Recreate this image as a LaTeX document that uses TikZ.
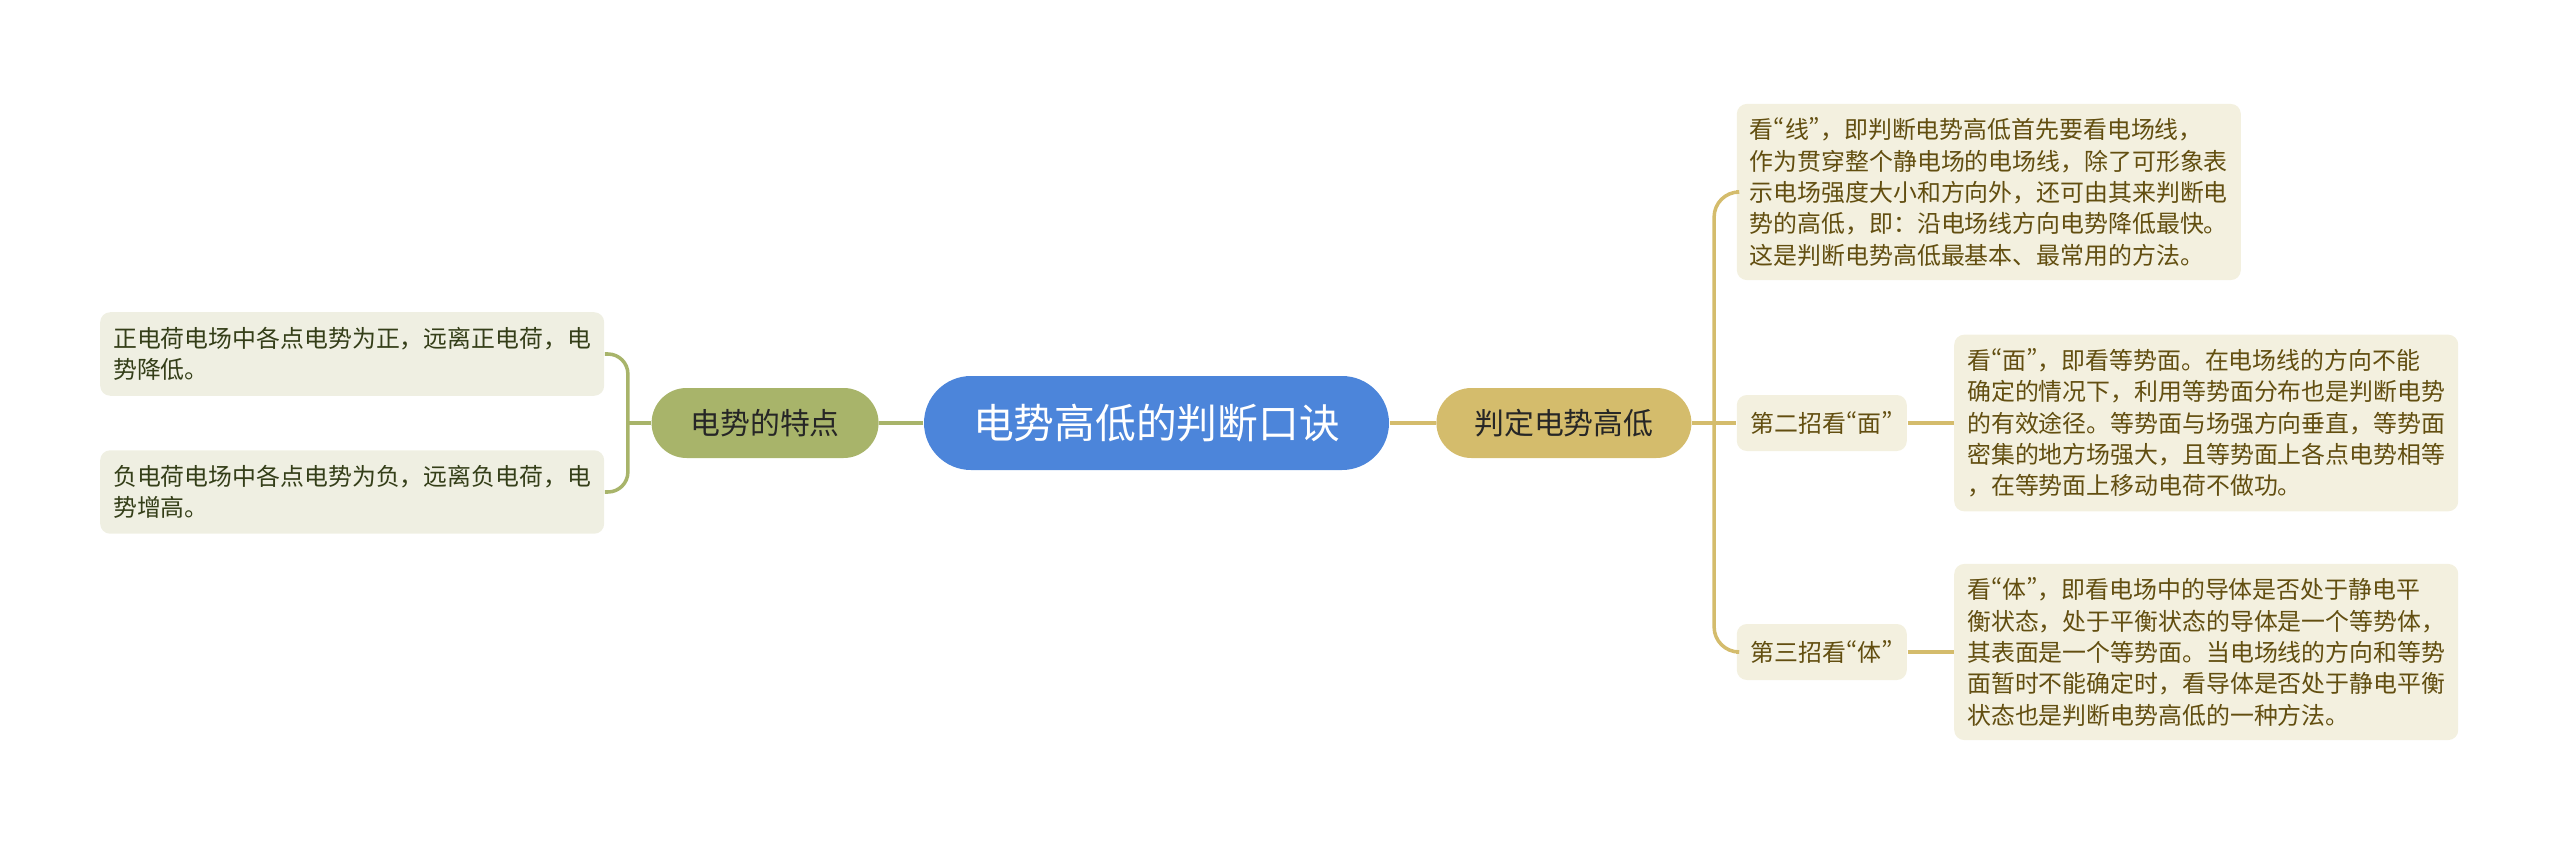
\documentclass[tikz,border=0pt]{standalone}
\usepackage{fontspec}
\usepackage{xcolor}
\usetikzlibrary{positioning}
\newfontfamily\cjk{Noto Sans CJK SC}
\newfontfamily\cjkq[RawFeature=+pwid]{Noto Sans CJK SC}
\newcommand{\openq}{{\cjkq “}}
\newcommand{\closeq}{{\cjkq ”}}
\definecolor{rootblue}{RGB}{76,133,218}
\definecolor{traitolive}{RGB}{168,180,106}
\definecolor{judgegold}{RGB}{212,188,108}
\definecolor{notecream}{RGB}{243,240,223}
\definecolor{notegrey}{RGB}{239,239,226}
\definecolor{notebrown}{RGB}{98,78,16}
\definecolor{notegreen}{RGB}{52,62,24}

\begin{document}
\begin{tikzpicture}[
    root/.style={rectangle,rounded corners=0.47cm,fill=rootblue,text=white,
      minimum width=4.65cm,minimum height=0.94cm,font=\cjk\fontsize{11.6}{14}\selectfont},
    trait/.style={rectangle,rounded corners=0.35cm,fill=traitolive,text=black!85,
      minimum width=2.27cm,minimum height=0.70cm,font=\cjk\fontsize{8.5}{10}\selectfont},
    judge/.style={rectangle,rounded corners=0.35cm,fill=judgegold,text=black!85,
      minimum width=2.55cm,minimum height=0.70cm,font=\cjk\fontsize{8.5}{10}\selectfont},
    charge/.style={rectangle,rounded corners=0.1cm,fill=notegrey,text=notegreen,
      text width=4.78cm,inner xsep=0.13cm,inner ysep=0.15cm,align=left,
      font=\cjk\fontsize{6.8}{8.9}\selectfont},
    method/.style={rectangle,rounded corners=0.1cm,fill=notecream,text=notebrown,
      minimum width=1.70cm,minimum height=0.56cm,font=\cjk\fontsize{6.8}{8.9}\selectfont},
    detail/.style={rectangle,rounded corners=0.1cm,fill=notecream,text=notebrown,
      text width=4.78cm,inner xsep=0.13cm,inner ysep=0.14cm,align=left,
      font=\cjk\fontsize{6.8}{8.9}\selectfont},
    oliveline/.style={draw=traitolive,line width=1pt},
    goldline/.style={draw=judgegold,line width=1pt}
  ]
    \useasboundingbox (0,0) rectangle (25.6,8.45);
    \node[root] (root) at (11.565,4.22) {电势高低的判断口诀};
    \node[trait,left=0.44cm of root] (trait) {电势的特点};
    \node[judge,right=0.46cm of root] (judge) {判定电势高低};

    \node[charge,left=0.46cm of trait,yshift=0.69cm] (positive) {正电荷电场中各点电势为正，远离正电荷，电\\
势降低。};
    \node[charge,left=0.46cm of trait,yshift=-0.69cm] (negative) {负电荷电场中各点电势为负，远离负电荷，电\\
势增高。};

    \node[detail,right=0.44cm of judge,yshift=2.31cm] (lines) {看\openq 线\closeq ，即判断电势高低首先要看电场线，\\
作为贯穿整个静电场的电场线，除了可形象表\\
示电场强度大小和方向外，还可由其来判断电\\
势的高低，即：沿电场线方向电势降低最快。\\
这是判断电势高低最基本、最常用的方法。};
    \node[method,right=0.44cm of judge] (second) {第二招看\openq 面\closeq};
    \node[detail,right=0.46cm of second] (surface) {看\openq 面\closeq ，即看等势面。在电场线的方向不能\\
确定的情况下，利用等势面分布也是判断电势\\
的有效途径。等势面与场强方向垂直，等势面\\
密集的地方场强大，且等势面上各点电势相等\\
，在等势面上移动电荷不做功。};
    \node[method,right=0.44cm of judge,yshift=-2.29cm] (third) {第三招看\openq 体\closeq};
    \node[detail,right=0.46cm of third] (body) {看\openq 体\closeq ，即看电场中的导体是否处于静电平\\
衡状态，处于平衡状态的导体是一个等势体，\\
其表面是一个等势面。当电场线的方向和等势\\
面暂时不能确定时，看导体是否处于静电平衡\\
状态也是判断电势高低的一种方法。};

    \draw[oliveline] (root) -- (trait);
    \draw[goldline] (root) -- (judge);
    \draw[oliveline] (trait.west) -- ++(-0.23,0) coordinate (lfork);
    \draw[oliveline,rounded corners=0.2cm] (lfork) |- (positive.east);
    \draw[oliveline,rounded corners=0.2cm] (lfork) |- (negative.east);
    \draw[goldline] (judge.east) -- ++(0.22,0) coordinate (rfork) -- (second.west);
    \draw[goldline,rounded corners=0.25cm] (rfork) |- (lines.west);
    \draw[goldline,rounded corners=0.25cm] (rfork) |- (third.west);
    \draw[goldline] (second) -- (surface);
    \draw[goldline] (third) -- (body);
  \end{tikzpicture}
\end{document}
